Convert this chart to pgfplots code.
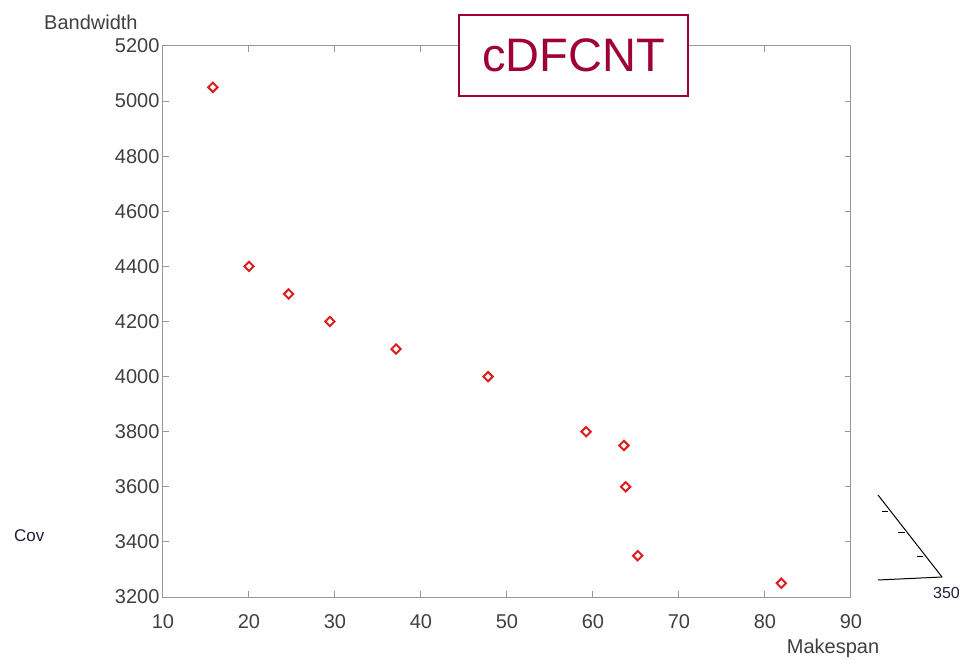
\documentclass[border=0pt]{standalone}
\usepackage{pgfplots}
\pgfplotsset{compat=1.18}
\usepackage{fontspec}
\setmainfont{Liberation Sans}
\definecolor{titlered}{RGB}{160,0,56}
\definecolor{markred}{RGB}{220,30,30}
\definecolor{ticktext}{RGB}{64,64,64}
\definecolor{framegray}{RGB}{150,150,150}
\begin{document}
\begin{tikzpicture}
\useasboundingbox (-163pt,-62pt) rectangle (798pt,597pt);
\begin{axis}[
  scale only axis,
  width=688pt, height=551pt,
  xmin=10, xmax=90, ymin=3200, ymax=5200,
  xtick={10,20,...,90},
  ytick={3200,3400,...,5200},
  tick align=inside,
  major tick length=6pt,
  axis line style={framegray, line width=1pt},
  every tick/.style={framegray, line width=1pt},
  tick label style={font=\fontsize{20}{24}\selectfont, text=ticktext},
  xticklabel style={yshift=-14pt},
  /pgf/number format/assume math mode=true,
  /pgf/number format/1000 sep={},
  scaled ticks=false,
]
\addplot[only marks, mark=square, mark size=3.3pt,
  mark options={rotate=45, draw=markred, fill=white, line width=2pt}]
  coordinates {
  (15.8,5050) (20.0,4400) (24.6,4300) (29.4,4200) (37.1,4100)
  (47.8,4000) (59.2,3800) (63.6,3750) (63.8,3600) (65.2,3350)
  (81.9,3250)
  };
\end{axis}
% title box
\node[draw=titlered, line width=2pt, fill=white, text=titlered,
  minimum width=229pt, minimum height=81pt, inner sep=0pt,
  font=\fontsize{47}{52}\selectfont] at (410.5pt,541.5pt) {cDFCNT};
% stray labels
\node[anchor=west, inner sep=0pt, text=ticktext, font=\fontsize{20}{24}\selectfont]
  at (-119pt,575pt) {Bandwidth};
\node[inner sep=0pt, text=ticktext, font=\fontsize{20}{24}\selectfont]
  at (670pt,-51pt) {Makespan};
\node[anchor=west, inner sep=0pt, text={rgb,255:red,30;green,30;blue,60}, font=\fontsize{17}{20}\selectfont]
  at (-149pt,61pt) {Cov};
\node[inner sep=0pt, text={rgb,255:red,30;green,30;blue,60}, font=\fontsize{16}{19}\selectfont]
  at (783.5pt,4pt) {350};
% partial 3d axis fragment
\draw[black, line width=1pt] (715pt,102pt) -- (779pt,20pt);
\draw[black, line width=1pt] (715pt,17pt) -- (779pt,20pt);
\draw[black, line width=1pt] (719pt,86pt) -- (725pt,86pt);
\draw[black, line width=1pt] (735pt,65pt) -- (742pt,65pt);
\draw[black, line width=1pt] (754pt,41pt) -- (760pt,41pt);
\end{tikzpicture}
\end{document}
